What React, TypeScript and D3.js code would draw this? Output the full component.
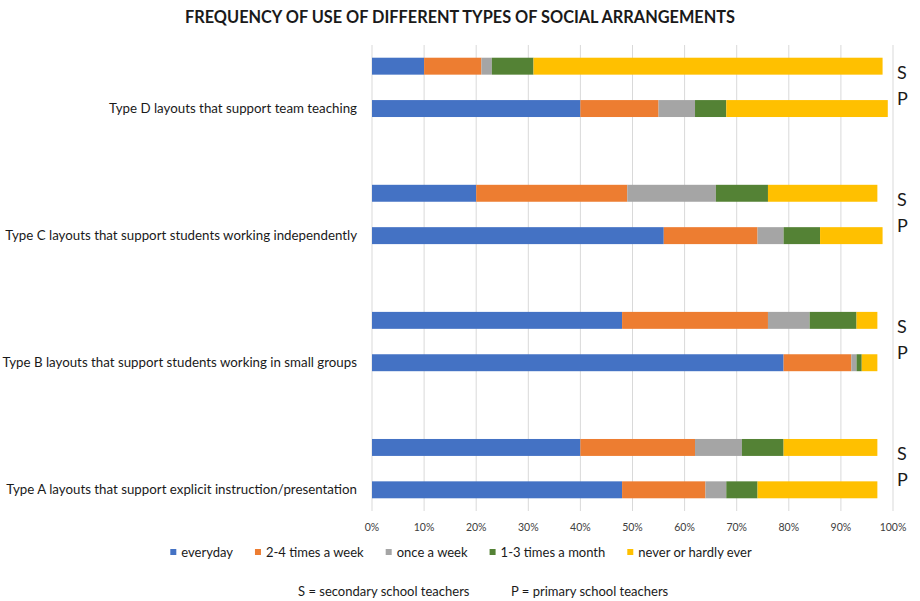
import React, { useEffect, useRef } from 'react';
import * as d3 from 'd3';

// categories top to bottom, as shown in the chart
const categories = [
  'Type D layouts that support team teaching',
  'Type C layouts that support students working independently',
  'Type B layouts that support students working in small groups',
  'Type A layouts that support explicit instruction/presentation',
];
const frequencies = ['everyday', '2-4 times a week', 'once a week', '1-3 times a month', 'never or hardly ever'];
const colors = ['#4472C4', '#ED7D31', '#A5A5A5', '#548235', '#FFC000'];

// percentages per category, one value per frequency
const secondary = [
  [10, 11, 2, 8, 67],
  [20, 29, 17, 10, 21],
  [48, 28, 8, 9, 4],
  [40, 22, 9, 8, 18],
];
const primary = [
  [40, 15, 7, 6, 31],
  [56, 18, 5, 7, 12],
  [79, 13, 1, 1, 3],
  [48, 16, 4, 6, 23],
];
const ticks = [0, 10, 20, 30, 40, 50, 60, 70, 80, 90, 100];
const groups = ['S', 'P'];

const FONT = 'Lato, "Open Sans", sans-serif';
const INK = '#1a1a1a';

export default function App() {
  const svgRef = useRef<SVGSVGElement | null>(null);

  useEffect(() => {
    if (!svgRef.current) return;
    const width = 920;
    const height = 601;
    const svg = d3.select(svgRef.current);
    svg.selectAll('*').remove();
    svg.attr('width', width).attr('height', height).style('font-family', FONT);

    // rows: S and P for each category, with an empty row between categories
    const rows: string[] = [];
    categories.forEach((c, i) => {
      if (i > 0) rows.push('gap' + i);
      groups.forEach(g => rows.push(c + '|' + g));
    });

    const x = d3.scaleLinear().domain([0, 100]).range([372, 893]);
    const y = d3.scaleBand<string>().domain(rows).range([45, 511]).paddingInner(0.6).paddingOuter(0.3);

    // title
    svg.append('text')
      .attr('x', 460)
      .attr('y', 23)
      .attr('text-anchor', 'middle')
      .attr('font-size', '16.5px')
      .attr('font-weight', 'bold')
      .attr('fill', INK)
      .attr('textLength', 550)
      .attr('lengthAdjust', 'spacingAndGlyphs')
      .text('FREQUENCY OF USE OF DIFFERENT TYPES OF SOCIAL ARRANGEMENTS');

    // gridlines
    svg.append('g')
      .selectAll('line')
      .data(ticks)
      .enter()
      .append('line')
      .attr('x1', d => x(d))
      .attr('x2', d => x(d))
      .attr('y1', 45)
      .attr('y2', 511)
      .attr('stroke', '#D9D9D9')
      .attr('stroke-width', 1);

    // tick labels
    svg.append('g')
      .selectAll('text')
      .data(ticks)
      .enter()
      .append('text')
      .attr('x', d => x(d))
      .attr('y', 530.5)
      .attr('text-anchor', 'middle')
      .attr('font-size', '10.5px')
      .attr('fill', '#404040')
      .text(d => d + '%');

    // stacked bars
    const stack = d3.stack<number[]>().keys(frequencies.map((_, i) => String(i))).value((d, k) => d[+k]);
    groups.forEach(g => {
      const data = g === 'S' ? secondary : primary;
      const series = stack(data);
      series.forEach((s, si) => {
        svg.append('g')
          .selectAll('rect')
          .data(s)
          .enter()
          .append('rect')
          .attr('x', d => x(d[0]))
          .attr('width', d => x(d[1]) - x(d[0]))
          .attr('y', (_, ci) => y(categories[ci] + '|' + g) as number)
          .attr('height', y.bandwidth())
          .attr('fill', colors[si]);
      });
    });

    // category labels next to P bars
    svg.append('g')
      .selectAll('text')
      .data(categories)
      .enter()
      .append('text')
      .attr('x', 357)
      .attr('y', d => (y(d + '|P') as number) + y.bandwidth() / 2)
      .attr('dy', '0.35em')
      .attr('text-anchor', 'end')
      .attr('font-size', '13.3px')
      .attr('fill', INK)
      .text(d => d);

    // S / P markers on the right
    categories.forEach(c => {
      const sMid = (y(c + '|S') as number) + y.bandwidth() / 2;
      const pMid = (y(c + '|P') as number) + y.bandwidth() / 2;
      svg.append('text')
        .attr('x', 897)
        .attr('y', sMid + 13)
        .attr('font-size', '18px')
        .attr('fill', INK)
        .text('S');
      svg.append('text')
        .attr('x', 897)
        .attr('y', pMid - 4)
        .attr('font-size', '18px')
        .attr('fill', INK)
        .text('P');
    });

    // legend
    const legend = svg.append('g');
    let lx = 0;
    frequencies.forEach((f, i) => {
      const item = legend.append('g').attr('transform', `translate(${lx},0)`);
      item.append('rect').attr('x', 0).attr('y', -3).attr('width', 6).attr('height', 6).attr('fill', colors[i]);
      const t = item.append('text')
        .attr('x', 11)
        .attr('y', 0)
        .attr('dy', '0.35em')
        .attr('font-size', '13px')
        .attr('fill', INK)
        .text(f);
      const w = (t.node() as SVGTextElement).getComputedTextLength();
      lx += 11 + w + 22;
    });
    const totalW = lx - 22;
    legend.attr('transform', `translate(${461 - totalW / 2},552)`);

    // footnote
    svg.append('text')
      .attr('x', 298)
      .attr('y', 591)
      .attr('dy', '0.35em')
      .attr('font-size', '13px')
      .attr('fill', INK)
      .text('S = secondary school teachers');
    svg.append('text')
      .attr('x', 511)
      .attr('y', 591)
      .attr('dy', '0.35em')
      .attr('font-size', '13px')
      .attr('fill', INK)
      .text('P = primary school teachers');
  }, []);

  return (
    <div style={{ position: 'absolute', left: 0, top: 0 }}>
      <svg ref={svgRef} style={{ display: 'block' }} />
    </div>
  );
}
